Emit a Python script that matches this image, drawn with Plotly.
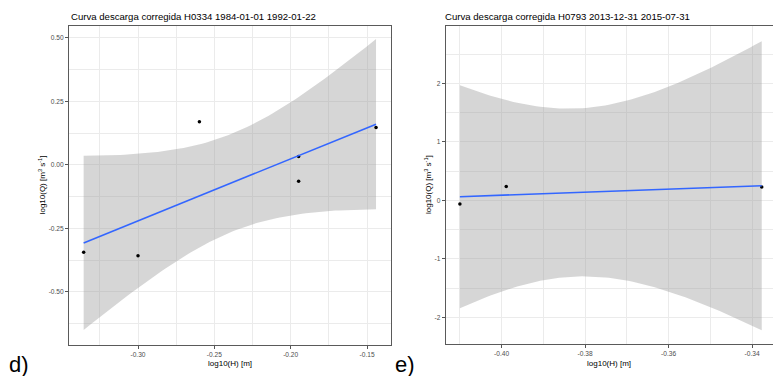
import numpy as np
import plotly.graph_objects as go

W, H = 773, 376

# ---------------- data ----------------
# Panel d) station H0334
d_logH = [-0.3356, -0.3000, -0.2598, -0.1948, -0.1948, -0.1441]
d_logQ = [-0.344, -0.358, 0.170, -0.064, 0.033, 0.147]
# Panel e) station H0793
e_logH = [-0.4100, -0.3989, -0.3377]
e_logQ = [-0.064, 0.239, 0.228]

d_title = "Curva descarga corregida H0334 1984-01-01 1992-01-22"
e_title = "Curva descarga corregida H0793 2013-12-31 2015-07-31"
x_title = "log10(H) [m]"
y_title = "log10(Q) [m<sup>3</sup> s<sup>-1</sup>]"
d_xticks = [-0.30, -0.25, -0.20, -0.15]
d_yticks = [-0.50, -0.25, 0.00, 0.25, 0.50]
e_xticks = [-0.40, -0.38, -0.36, -0.34]
e_yticks = [-2, -1, 0, 1, 2]
panel_labels = ["d)", "e)"]

# Student t 97.5% quantiles for the lm confidence band (by residual df)
T975 = {1: 12.706205, 2: 4.302653, 3: 3.182446, 4: 2.776445, 5: 2.570582}


def lm_band(x, y, n=80):
    x = np.asarray(x, float)
    y = np.asarray(y, float)
    k = len(x)
    xm, ym = x.mean(), y.mean()
    sxx = ((x - xm) ** 2).sum()
    b = ((x - xm) * (y - ym)).sum() / sxx
    a = ym - b * xm
    res = y - (a + b * x)
    s = np.sqrt((res ** 2).sum() / (k - 2))
    xs = np.linspace(x.min(), x.max(), n)
    fit = a + b * xs
    se = s * np.sqrt(1.0 / k + (xs - xm) ** 2 / sxx)
    hw = T975[k - 2] * se
    return xs, fit, fit - hw, fit + hw


def px_x(p):
    return p / W


def px_y(p):
    return 1 - p / H


fig = go.Figure()

panels = [
    dict(x=d_logH, y=d_logQ, xa="x", ya="y"),
    dict(x=e_logH, y=e_logQ, xa="x2", ya="y2"),
]
for p in panels:
    xs, fit, lo, hi = lm_band(p["x"], p["y"])
    fig.add_trace(go.Scatter(
        x=np.concatenate([xs, xs[::-1]]), y=np.concatenate([hi, lo[::-1]]),
        fill="toself", fillcolor="rgba(153,153,153,0.4)", line=dict(width=0),
        mode="lines", hoverinfo="skip", showlegend=False,
        xaxis=p["xa"], yaxis=p["ya"]))
    fig.add_trace(go.Scatter(
        x=p["x"], y=p["y"], mode="markers",
        marker=dict(color="black", size=3.5),
        showlegend=False, xaxis=p["xa"], yaxis=p["ya"]))
    fig.add_trace(go.Scatter(
        x=xs, y=fit, mode="lines", line=dict(color="#3366FF", width=1.6),
        showlegend=False, xaxis=p["xa"], yaxis=p["ya"]))

FONT = "Liberation Sans, Arial, sans-serif"
tickfont = dict(family=FONT, size=6.6, color="#4d4d4d")
grid = "#ebebeb"
border = "#5a5a5a"


def ax(domain, rng, tv, tt, minor_dtick, anchor, mirror=True):
    return dict(
        domain=domain, range=rng, anchor=anchor,
        tickmode="array", tickvals=tv, ticktext=tt,
        tickfont=tickfont, ticks="outside", ticklen=3, tickcolor="#555",
        tickwidth=0.8,
        showgrid=True, gridcolor=grid, gridwidth=1,
        minor=dict(dtick=minor_dtick, tick0=tv[0], showgrid=True,
                   gridcolor=grid, gridwidth=0.6, ticks=""),
        showline=True, linecolor=border, linewidth=1, mirror=mirror,
        zeroline=False,
    )


# pixel geometry of the panels
d_left, d_right, d_top, d_bot = 69, 390.7, 25.7, 345
e_left, e_right, e_top, e_bot = 445.7, 773, 25.7, 344.3

fig.update_layout(
    width=W, height=H, margin=dict(l=0, r=0, t=0, b=0),
    paper_bgcolor="white", plot_bgcolor="white",
    font=dict(family=FONT, size=8, color="black"),
    xaxis=ax([px_x(d_left), px_x(d_right)], [-0.3452, -0.1345], d_xticks,
             [f"{v:.2f}" for v in d_xticks], 0.025, "y"),
    yaxis=ax([px_y(d_bot), px_y(d_top)], [-0.709, 0.548], d_yticks,
             [f"{v:.2f}" for v in d_yticks], 0.125, "x"),
    xaxis2=ax([px_x(e_left), 1.0], [-0.4134, -0.3350], e_xticks,
              [f"{v:.2f}" for v in e_xticks], 0.01, "y2"),
    yaxis2=ax([px_y(e_bot), px_y(e_top)], [-2.46, 2.985], e_yticks,
              [f"{v:d}" for v in e_yticks], 0.5, "x2", mirror=False),
)

ann = []
# titles
ann.append(dict(text=d_title, x=px_x(d_left), y=px_y(16.7), xanchor="left",
                yanchor="middle", font=dict(family=FONT, size=9.6, color="black")))
ann.append(dict(text=e_title, x=px_x(443), y=px_y(16.7), xanchor="left",
                yanchor="middle", font=dict(family=FONT, size=9.6, color="black")))
# x titles
for cx in [(d_left + d_right) / 2, (e_left + e_right) / 2]:
    ann.append(dict(text=x_title, x=px_x(cx), y=px_y(363.5), xanchor="center",
                    yanchor="middle", font=dict(family=FONT, size=8, color="black")))
# y titles
for cx, cy in [(42, (d_top + d_bot) / 2), (428, (e_top + e_bot) / 2)]:
    ann.append(dict(text=y_title, x=px_x(cx), y=px_y(cy), xanchor="center",
                    yanchor="middle", textangle=-90,
                    font=dict(family=FONT, size=8, color="black")))
# panel letters
for lab, cx in zip(panel_labels, [19, 405]):
    ann.append(dict(text=lab, x=px_x(cx), y=px_y(364), xanchor="center",
                    yanchor="middle", font=dict(family=FONT, size=22, color="black")))
for a in ann:
    a.update(xref="paper", yref="paper", showarrow=False)
fig.update_layout(annotations=ann)

fig.write_html("out.html")
